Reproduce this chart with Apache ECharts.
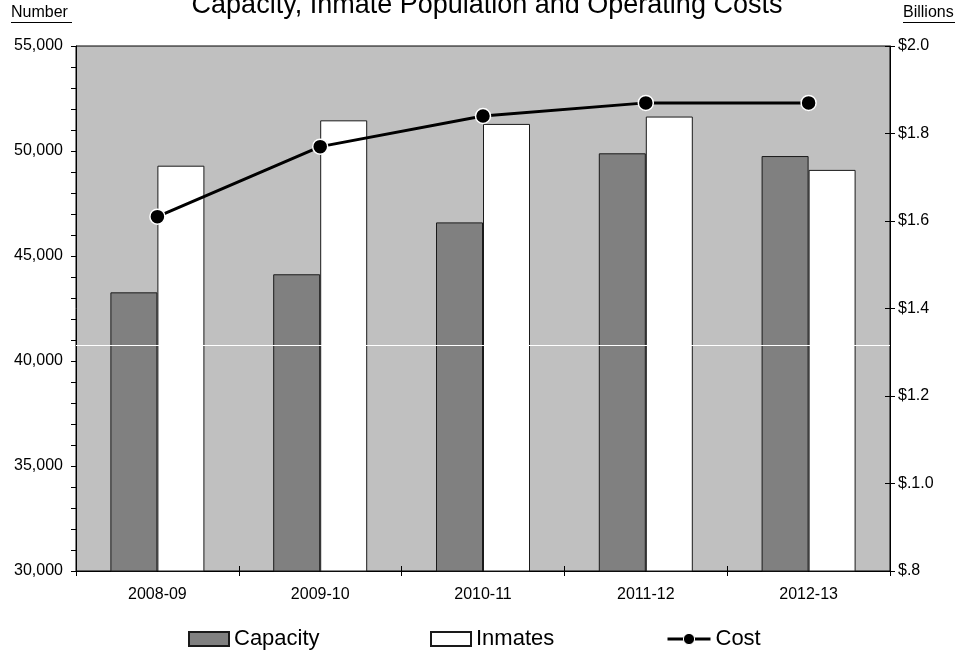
<!DOCTYPE html>
<html>
<head>
<meta charset="utf-8">
<title>Capacity, Inmate Population and Operating Costs</title>
<script src="https://cdn.jsdelivr.net/npm/echarts@6/dist/echarts.min.js"></script>
<style>
  html, body { margin: 0; padding: 0; background: #fff; }
  #chart { width: 959px; height: 650px; }
</style>
</head>
<body>
<div id="chart"></div>
<script>
// Fiscal years on the category axis
const years = ['2008-09', '2009-10', '2010-11', '2011-12', '2012-13'];
// Design capacity and inmate population (left axis, number)
const capacity = [43270, 44130, 46600, 49890, 49760];
const inmates = [49300, 51460, 51290, 51640, 49100];
// Operating cost in billions of dollars (right axis)
const cost = [1.61, 1.77, 1.84, 1.87, 1.87];
// Right-axis tick labels, bottom to top
const costTicks = [0.8, 1.0, 1.2, 1.4, 1.6, 1.8, 2.0];
const costTickLabels = ['$.8', '$.1.0', '$1.2', '$1.4', '$1.6', '$1.8', '$2.0'];
// Horizontal white rule across the plot (left-axis value)
const whiteRule = 40760;
// Unit captions above each value axis
const leftUnit = 'Number';
const rightUnit = 'Billions';

const FONT = '"Liberation Sans", Arial, sans-serif';
const chart = echarts.init(document.getElementById('chart'), null, { renderer: 'canvas' });

function costLabel(v) {
  for (let i = 0; i < costTicks.length; i++) {
    if (Math.abs(costTicks[i] - v) < 1e-6) return costTickLabels[i];
  }
  return '';
}

// Underlined caption: text plus a rule just below its baseline
function caption(text, x, width) {
  return [
    {
      type: 'text', left: x, top: 5, silent: true,
      style: { text: text, font: '16px ' + FONT, fill: '#000' }
    },
    {
      type: 'line', silent: true,
      shape: { x1: x, y1: 22.5, x2: x + width, y2: 22.5 },
      style: { stroke: '#000', lineWidth: 1 }
    }
  ];
}

const legendText = { fontFamily: FONT, fontSize: 22, color: '#000' };

chart.setOption({
  animation: false,
  backgroundColor: '#fff',
  textStyle: { fontFamily: FONT },
  title: {
    text: 'Capacity, Inmate Population and Operating Costs',
    left: 482, textAlign: 'center', top: -13,
    textStyle: { fontFamily: FONT, fontSize: 27, fontWeight: 'normal', color: '#000' }
  },
  graphic: [].concat(caption(leftUnit, 11, 61), caption(rightUnit, 903, 52)),
  grid: {
    left: 76, right: 69, top: 46, bottom: 79,
    show: true, backgroundColor: '#c0c0c0', borderColor: '#000', borderWidth: 1
  },
  legend: [
    {
      data: [{ name: 'Capacity', icon: 'rect' }], left: 188, top: 628,
      itemWidth: 40, itemHeight: 14, itemGap: 9, textStyle: legendText, padding: 0
    },
    {
      data: [{ name: 'Inmates', icon: 'rect' }], left: 430, top: 628,
      itemWidth: 40, itemHeight: 14, textStyle: legendText, padding: 0
    },
    {
      data: ['Cost'], left: 666, top: 628,
      itemWidth: 43, itemHeight: 14, textStyle: legendText, padding: 0,
      lineStyle: { width: 3, color: '#000' },
      itemStyle: { color: '#000', borderColor: '#fff', borderWidth: 1 }
    }
  ],
  xAxis: [
    {
      type: 'category', data: years, position: 'bottom',
      axisLine: { lineStyle: { color: '#000', width: 1 } },
      axisTick: { show: true, inside: false, length: 5, lineStyle: { color: '#000' } },
      axisLabel: { fontFamily: FONT, fontSize: 16, color: '#000', margin: 16 },
      splitLine: { show: false }
    },
    {
      type: 'category', data: years, position: 'bottom',
      axisLine: { show: false },
      axisTick: { show: true, inside: true, length: 5, lineStyle: { color: '#000' } },
      axisLabel: { show: false },
      splitLine: { show: false }
    }
  ],
  yAxis: [
    {
      type: 'value', min: 30000, max: 55000, interval: 5000, position: 'left',
      axisLine: { show: true, lineStyle: { color: '#000', width: 1 } },
      axisTick: { show: true, inside: false, length: 5, lineStyle: { color: '#000' } },
      minorTick: { show: true, splitNumber: 5, length: 5, lineStyle: { color: '#000' } },
      axisLabel: {
        fontFamily: FONT, fontSize: 16, color: '#000', margin: 13,
        formatter: v => v.toLocaleString('en-US')
      },
      splitLine: { show: false }
    },
    {
      type: 'value', min: 0.8, max: 2.0, interval: 0.2, position: 'right',
      axisLine: { show: true, lineStyle: { color: '#000', width: 1 } },
      axisTick: { show: true, inside: false, length: 5, lineStyle: { color: '#000' } },
      axisLabel: { fontFamily: FONT, fontSize: 16, color: '#000', margin: 8, formatter: costLabel },
      splitLine: { show: false }
    },
    {
      type: 'value', min: 0.8, max: 2.0, interval: 0.2, position: 'right',
      axisLine: { show: false },
      axisTick: { show: true, inside: true, length: 5, lineStyle: { color: '#000' } },
      axisLabel: { show: false },
      splitLine: { show: false }
    }
  ],
  series: [
    {
      name: 'Capacity', type: 'bar', data: capacity, yAxisIndex: 0,
      barWidth: 47, barGap: '0%',
      itemStyle: { color: '#808080', borderColor: '#1a1a1a', borderWidth: 1 }
    },
    {
      name: 'Inmates', type: 'bar', data: inmates, yAxisIndex: 0,
      barWidth: 47, barGap: '0%',
      itemStyle: { color: '#ffffff', borderColor: '#1a1a1a', borderWidth: 1 },
      markLine: {
        silent: true, symbol: 'none', label: { show: false },
        lineStyle: { color: '#ffffff', width: 1, type: 'solid' },
        data: [{ yAxis: whiteRule }]
      }
    },
    {
      name: 'Cost', type: 'line', data: cost, yAxisIndex: 1, z: 5,
      symbol: 'circle', symbolSize: 15,
      lineStyle: { color: '#000', width: 3 },
      itemStyle: { color: '#000', borderColor: '#fff', borderWidth: 1.5 }
    }
  ]
});
</script>
</body>
</html>
